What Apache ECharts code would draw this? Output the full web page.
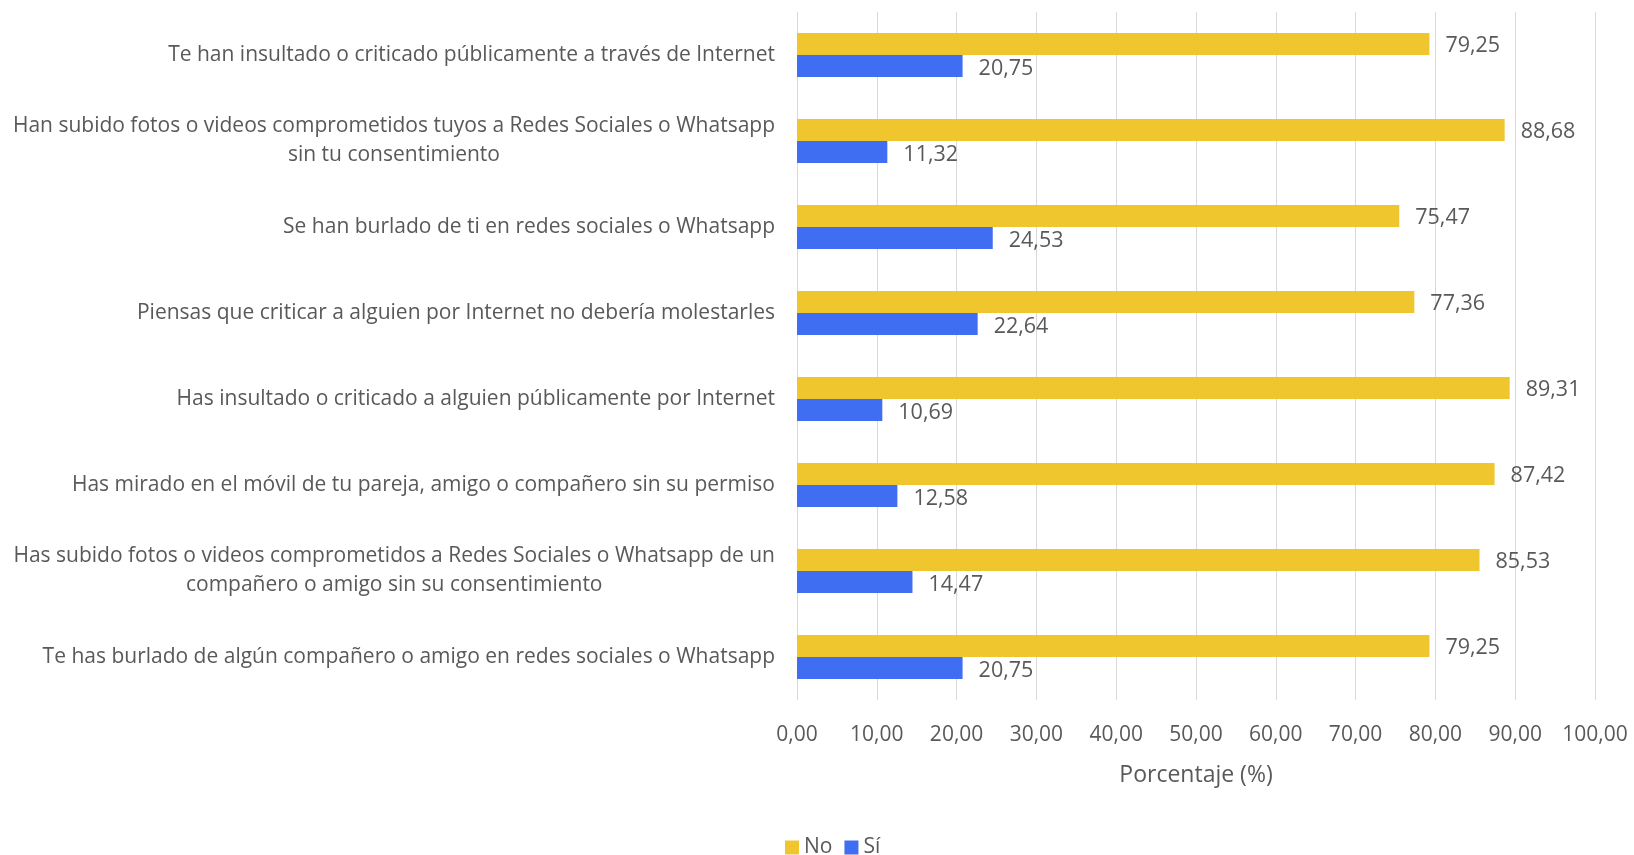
<!DOCTYPE html>
<html><head><meta charset="utf-8">
<script src="https://cdn.jsdelivr.net/npm/echarts@6/dist/echarts.min.js"></script>
<style>html,body{margin:0;padding:0;background:#fff}#c{width:1634px;height:855px}</style>
</head><body><div id="c"></div>
<script>
const categories = [
  "Te han insultado o criticado públicamente a través de Internet",
  "Han subido fotos o videos comprometidos tuyos a Redes Sociales o Whatsapp\nsin tu consentimiento",
  "Se han burlado de ti en redes sociales o Whatsapp",
  "Piensas que criticar a alguien por Internet no debería molestarles",
  "Has insultado o criticado a alguien públicamente por Internet",
  "Has mirado en el móvil de tu pareja, amigo o compañero sin su permiso",
  "Has subido fotos o videos comprometidos a Redes Sociales o Whatsapp de un\ncompañero o amigo sin su consentimiento",
  "Te has burlado de algún compañero o amigo en redes sociales o Whatsapp"
];
const noValues = [79.25, 88.68, 75.47, 77.36, 89.31, 87.42, 85.53, 79.25];
const siValues = [20.75, 11.32, 24.53, 22.64, 10.69, 12.58, 14.47, 20.75];
const seriesNames = ["No", "Sí"];

const FONT = "Open Sans";
const TXT = "#595959";
const fmt = v => v.toFixed(2).replace('.', ',');

const chart = echarts.init(document.getElementById('c'));
chart.setOption({
  animation: false,
  textStyle: { fontFamily: FONT },
  grid: { left: 797, right: 39, top: 12, bottom: 155 },
  legend: {
    data: seriesNames, left: 780, top: 832, icon: 'rect',
    itemWidth: 14, itemHeight: 14, itemGap: 12,
    textStyle: { color: TXT, fontSize: 21, fontFamily: FONT }
  },
  xAxis: {
    type: 'value', min: 0, max: 100, interval: 10,
    axisLine: { show: false }, axisTick: { show: false },
    splitLine: { lineStyle: { color: '#d9d9d9', width: 1 } },
    axisLabel: { color: TXT, fontSize: 21, margin: 25, formatter: v => fmt(v) },
    name: 'Porcentaje (%)', nameLocation: 'middle', nameGap: 64,
    nameTextStyle: { color: TXT, fontSize: 23 }
  },
  yAxis: {
    type: 'category', data: categories, inverse: true,
    axisLine: { show: false }, axisTick: { show: false },
    axisLabel: {
      color: TXT, fontSize: 21, margin: 22, lineHeight: 29,
      formatter: v => v.split('\n').map(l => '{c|' + l + '}').join('\n'),
      rich: { c: { align: 'center', color: TXT, fontSize: 21, lineHeight: 29, fontFamily: FONT } }
    }
  },
  series: [
    { name: seriesNames[0], type: 'bar', data: noValues, barWidth: 22, barGap: '0%',
      itemStyle: { color: '#F0C62F' },
      label: { show: true, position: 'right', distance: 16, offset: [0, 2], color: TXT, fontSize: 21.5, formatter: p => fmt(p.value) } },
    { name: seriesNames[1], type: 'bar', data: siValues, barWidth: 22, barGap: '0%',
      itemStyle: { color: '#3F6EF2' },
      label: { show: true, position: 'right', distance: 16, offset: [0, 3], color: TXT, fontSize: 21.5, formatter: p => fmt(p.value) } }
  ]
});
</script></body></html>
